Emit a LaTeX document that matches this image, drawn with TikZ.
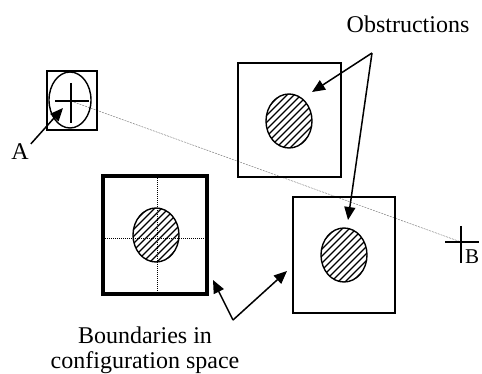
\documentclass[tikz,border=0pt]{standalone}
\usepackage{fontspec}
\setmainfont{Liberation Serif}
\usetikzlibrary{arrows.meta,shapes.geometric}
\begin{document}
\begin{tikzpicture}[x=1pt,y=-1pt,
  lbl/.style={inner sep=0pt, font=\fontsize{24}{25}\selectfont},
  cbox/.style={draw, line width=1.4pt, inner sep=0pt},
  hatched/.style={draw, ellipse, line width=1.4pt, inner sep=0pt,
    minimum width=46pt, minimum height=54pt,
    path picture={\foreach \k in {-84,-77,...,84}
      \draw[line width=1.4pt] ([shift={(\k-40,40)}]path picture bounding box.center)
        -- ([shift={(\k+40,-40)}]path picture bounding box.center);}},
  ptr/.style={line width=1.5pt, -{Triangle[length=13pt,width=11pt]}},
  sight/.style={gray, line width=0.5pt, dash pattern=on 2pt off 1pt},
  grid/.style={line width=0.6pt, dash pattern=on 1pt off 1pt}]
\useasboundingbox (0,0) rectangle (482,374);
% line of sight
\coordinate (pa) at (71,101);
\coordinate (pb) at (461,242);
\draw[sight] (pa) -- (pb);
% robot A
\node[cbox, minimum width=50pt, minimum height=59pt] (boxA) at (72,100.5) {};
\node[draw, ellipse, line width=1.4pt, inner sep=0pt, minimum width=42pt, minimum height=56pt] (ellA) at (70,100) {};
\draw[line width=1.4pt] ([xshift=-16pt]pa) -- ([xshift=18pt]pa);
\draw[line width=1.4pt] ([yshift=18pt]pa) -- ([yshift=-22pt]pa);
% goal B
\draw[line width=1.4pt] ([xshift=-16pt]pb) -- ([xshift=18pt]pb);
\draw[line width=1.4pt] ([yshift=16pt]pb) -- ([yshift=-21pt]pb);
\node[lbl, font=\fontsize{21}{24}\selectfont] (labB) at (472,257) {B};
% label A
\node[lbl] (labA) at (20,152) {A};
\coordinate (tipA) at (63,108);
\path (labA.north east) ++(2,0) coordinate (tailA);
\draw[ptr] (tailA) -- (tipA);
% obstacle boxes
\node[cbox, minimum width=103pt, minimum height=114pt] (box1) at (289.5,120) {};
\node[hatched] (obs1) at (289,121) {};
\node[draw, line width=3.4pt, inner sep=0pt, minimum width=104pt, minimum height=118pt] (box2) at (155,235) {};
\draw[grid] (box2.north) ++(2,0) coordinate (g1) -- (box2.south -| g1);
\draw[grid] (box2.west) ++(0,3) coordinate (g2) -- (box2.east |- g2);
\node[hatched] (obs2) at (156,235) {};
\node[cbox, minimum width=102pt, minimum height=116pt] (box3) at (344,255) {};
\node[hatched] (obs3) at (344,255) {};
% obstruction label
\node[lbl] (obs) at (408,24) {Obstructions};
\coordinate (apex1) at (372,53);
\coordinate (tip1) at (312,92);
\coordinate (tip2) at (348,220);
\draw[ptr] (apex1) -- (tip1);
\draw[ptr] (apex1) -- (tip2);
% boundaries label
\node[lbl, align=center] (bnd) at (145,350) {Boundaries in\\configuration space};
\coordinate (apex2) at (233,320);
\coordinate (tip3) at (213,280);
\coordinate (tip4) at (287,271);
\draw[ptr] (apex2) -- (tip3);
\draw[ptr] (apex2) -- (tip4);
\end{tikzpicture}
\end{document}
